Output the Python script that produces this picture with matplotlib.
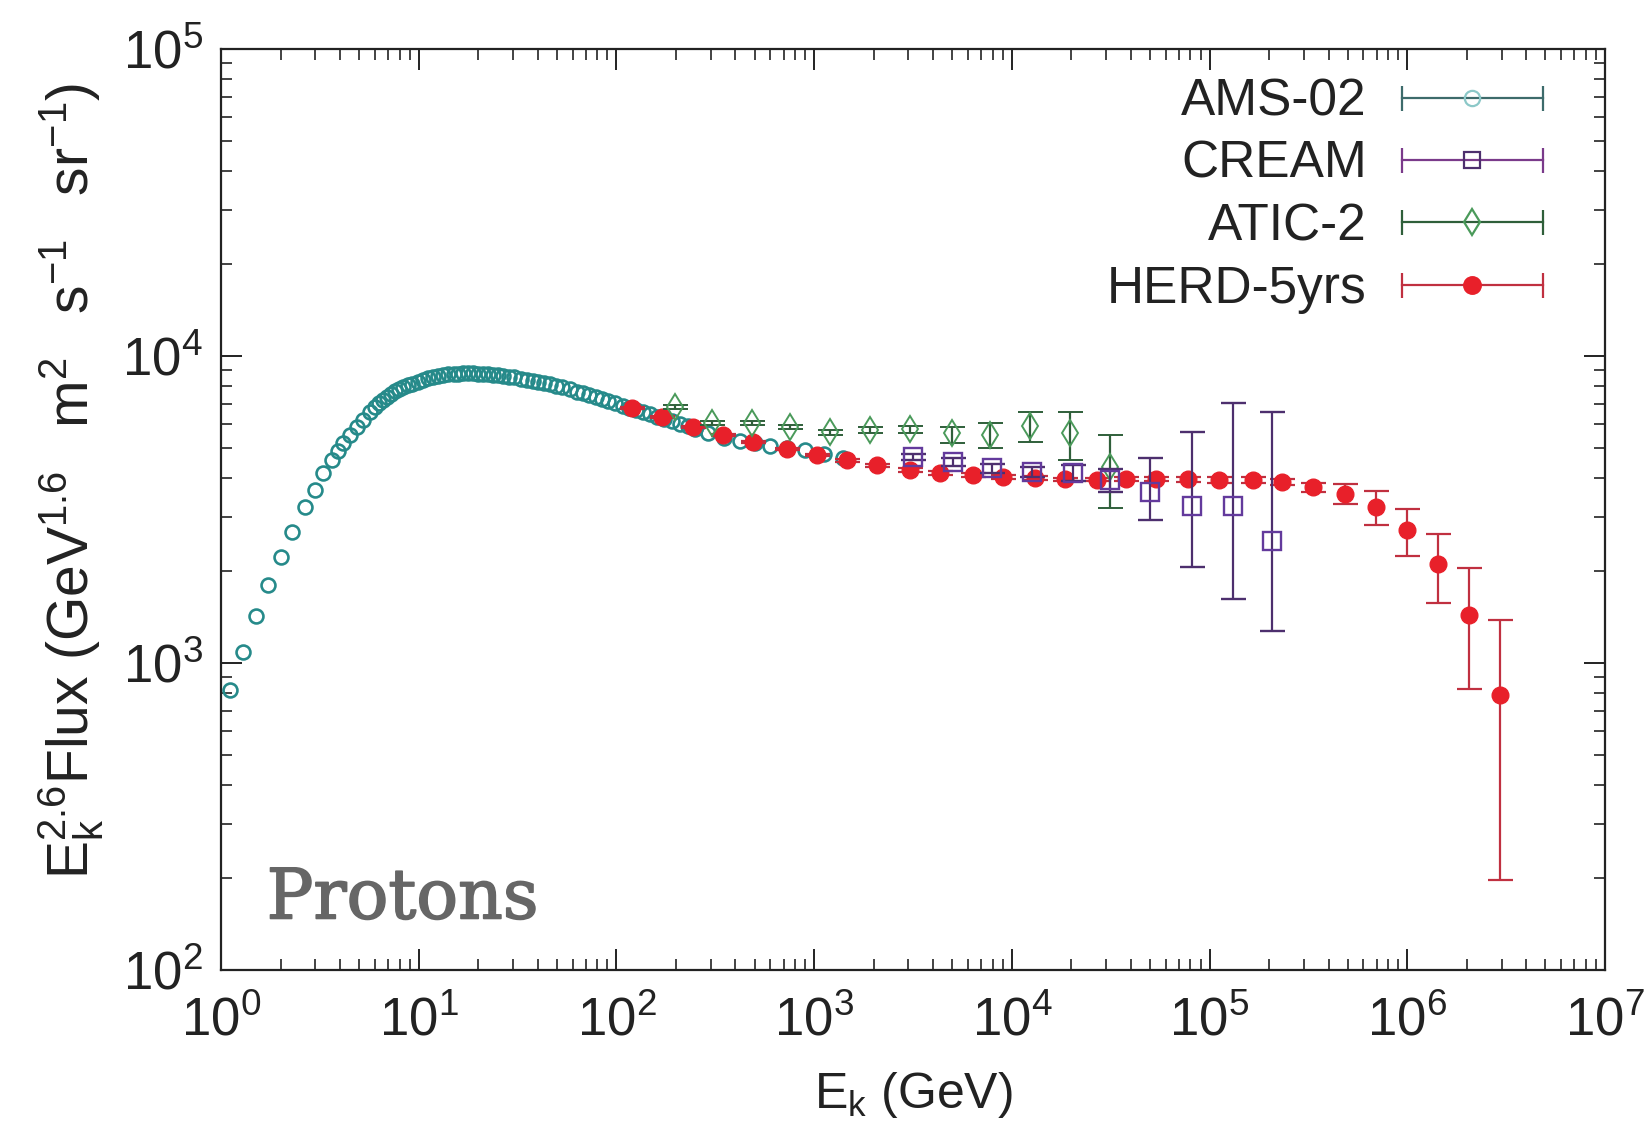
import numpy as np
import matplotlib
matplotlib.use('Agg')
import matplotlib.pyplot as plt
import matplotlib.patheffects as pe
from matplotlib.ticker import LogLocator, NullFormatter
from matplotlib.lines import Line2D
from matplotlib.legend_handler import HandlerLine2D

plt.rcParams['font.family'] = ['Liberation Sans', 'DejaVu Sans']
plt.rcParams['mathtext.fontset'] = 'custom'
plt.rcParams['mathtext.rm'] = 'Liberation Sans'
plt.rcParams['mathtext.it'] = 'Liberation Sans:italic'
plt.rcParams['mathtext.bf'] = 'Liberation Sans:bold'

# AMS-02 (GeV, E^2.6 flux)
ams_e = [1.11, 1.29, 1.50, 1.73, 2.01, 2.29, 2.66, 2.99, 3.28, 3.64,
         3.9, 4.14, 4.5, 4.87, 5.25, 5.67, 6.0, 6.3, 6.6, 6.9,
         7.25, 7.6, 7.95, 8.3, 8.8, 9.3, 9.9, 10.5, 11.1, 11.8,
         12.5, 13.3, 14.1, 15.0, 15.8, 16.7, 17.7, 18.8, 19.9, 21.1,
         22.4, 23.7, 25.1, 26.7, 28.5, 30.5, 32.8, 35.3, 37.7, 40.3,
         43.2, 46.2, 49.5, 53.0, 58.0, 63.0, 68.0, 73.0, 79.0, 85.0,
         91.0, 98.0, 108, 116, 125, 136, 148, 161, 175, 192,
         210, 230, 250, 290, 350, 420, 500, 600, 730, 900,
         1120, 1400]
ams_flux = [817, 1087, 1422, 1795, 2215, 2672, 3222, 3657, 4158, 4580,
            4900, 5210, 5550, 5875, 6200, 6575, 6820, 7050, 7200, 7350,
            7530, 7700, 7820, 7920, 8020, 8100, 8230, 8350, 8460, 8550,
            8620, 8680, 8720, 8750, 8770, 8780, 8785, 8780, 8770, 8750,
            8725, 8700, 8665, 8620, 8575, 8520, 8430, 8330, 8260, 8200,
            8150, 8100, 8000, 7900, 7780, 7650, 7550, 7450, 7350, 7250,
            7150, 7050, 6850, 6750, 6650, 6550, 6450, 6350, 6250, 6120,
            6000, 5900, 5800, 5600, 5420, 5300, 5200, 5100, 5020, 4940,
            4800, 4650]

# CREAM
cream_e = [3165, 5040, 7940, 12650, 20400, 31400, 50000, 81500, 131500, 207000]
cream_flux = [4690, 4520, 4315, 4190, 4160, 3945, 3605, 3245, 3245, 2495]
cream_lo = [120, 150, 150, 160, 250, 350, 685, 1190, 1630, 1225]
cream_hi = [120, 150, 150, 160, 250, 350, 1055, 2405, 3785, 4085]

# ATIC-2
atic_e = [198, 305, 485, 755, 1200, 1920, 3055, 4990, 7760, 12360, 19700, 31400]
atic_flux = [6800, 6050, 6050, 5870, 5650, 5740, 5780, 5610, 5530, 5920, 5620, 4345]
atic_lo = [100, 100, 100, 100, 100, 120, 150, 400, 520, 670, 1040, 1145]
atic_hi = [100, 100, 100, 100, 100, 120, 150, 260, 520, 660, 960, 1185]

# HERD-5yrs
herd_e = [120, 170, 244, 346, 491, 729, 1035, 1466, 2080, 3055, 4335, 6370, 9040, 13100,
          18600, 26900, 38000, 53300, 77800, 111000, 166000, 233000, 334000, 484000,
          695000, 998000, 1430000, 2060000, 2950000]
herd_flux = [6770, 6320, 5870, 5530, 5250, 4975, 4760, 4580, 4415, 4253, 4160, 4095, 4040,
             4010, 3970, 3955, 3970, 3970, 3970, 3945, 3945, 3890, 3740, 3550, 3220, 2710,
             2100, 1430, 787]
herd_err = [60, 60, 60, 55, 55, 50, 50, 50, 50, 50, 50, 50, 50, 50, 50, 50, 55, 60, 70,
            80, 90, 100, 130, 265, 400, 475, 530, 610, 590]

ams_col = '#268a8a'
cream_col = '#633a9c'
cream_ecol = '#4d2f6e'
atic_col = '#4a9a5a'
atic_ecol = '#2f5f3a'
herd_col = '#e8202a'
herd_ecol = '#c03040'

fig = plt.figure(figsize=(16.48, 11.29), dpi=100)
ax = fig.add_axes([0.1341, 0.1408, 0.8398, 0.8158])
ax.set_xscale('log')
ax.set_yscale('log')

ax.errorbar(ams_e, ams_flux, fmt='o', ms=10, mfc='none', mec=ams_col, mew=1.9, zorder=2)
ax.errorbar(herd_e, herd_flux, yerr=herd_err, fmt='o', ms=12, color=herd_col,
            ecolor=herd_ecol, elinewidth=1.6, capsize=9, capthick=1.6, zorder=3)
ax.errorbar(atic_e, atic_flux, yerr=[atic_lo, atic_hi], fmt='d', ms=13, mfc='none',
            mec=atic_col, mew=1.4, ecolor=atic_ecol, elinewidth=1.6, capsize=9,
            capthick=1.6, zorder=4)
ax.errorbar(cream_e, cream_flux, yerr=[cream_lo, cream_hi], fmt='s', ms=13, mfc='none',
            mec=cream_col, mew=1.7, ecolor=cream_ecol, elinewidth=1.6, capsize=9,
            capthick=1.6, zorder=5)

# legend keys drawn like the gnuplot key: a bar with end caps and the marker in the middle
hmap = {}
def key(line_col, marker, ms, mfc, mec):
    bar = Line2D([], [], color=line_col, lw=1.6, marker='|', ms=18, mew=1.6)
    mk = Line2D([], [], ls='none', marker=marker, ms=ms, mfc=mfc, mec=mec, mew=1.6)
    hmap[bar] = HandlerLine2D(numpoints=2, marker_pad=0)
    return (bar, mk)

handles = [key('#3d6b6b', 'o', 11, 'none', '#8cc8c8'),
           key('#7a3a8a', 's', 12, 'none', cream_ecol),
           key(atic_ecol, 'd', 13, 'none', atic_col),
           key(herd_ecol, 'o', 12, herd_col, herd_col)]

ax.legend(handles, ['AMS-02', 'CREAM', 'ATIC-2', 'HERD-5yrs'],
          loc='upper right', bbox_to_anchor=(0.955, 0.969), frameon=False,
          markerfirst=False, numpoints=1, fontsize=37, handlelength=2.74,
          handletextpad=0.68, labelspacing=0.26, borderpad=0, borderaxespad=0,
          handler_map=hmap, labelcolor='#222222')

ax.set_xlim(1, 1e7)
ax.set_ylim(1e2, 1e5)
ax.xaxis.set_major_locator(LogLocator(base=10, numticks=20))
ax.xaxis.set_minor_locator(LogLocator(base=10, subs=np.arange(2, 10), numticks=100))
ax.xaxis.set_minor_formatter(NullFormatter())
ax.yaxis.set_minor_locator(LogLocator(base=10, subs=np.arange(2, 10), numticks=100))
ax.yaxis.set_minor_formatter(NullFormatter())
ax.tick_params(which='both', direction='in', top=True, right=True, colors='#222222')
ax.tick_params(which='major', length=15, width=1.4, labelsize=38)
ax.tick_params(axis='x', which='major', pad=19)
ax.tick_params(axis='y', which='major', pad=13)
ax.tick_params(which='minor', length=8, width=1.2)
for s in ax.spines.values():
    s.set_linewidth(1.6)
    s.set_color('#222222')

ax.text(-0.108, 0.531,
        r'$\mathrm{E_k^{2.6}Flux\ (GeV^{1.6}\ \;\;m^2\ \;\;s^{-1}\ \;\;sr^{-1})}$',
        transform=ax.transAxes, rotation=90, ha='center', va='center',
        fontsize=41, color='#222222')
ax.text(0.5, -0.136, r'$\mathrm{E_k\ (GeV)}$', transform=ax.transAxes,
        ha='center', va='center', fontsize=36, color='#222222')

ax.text(0.033, 0.056, 'Protons', transform=ax.transAxes, fontsize=50,
        family='DejaVu Serif', color='#666666', va='baseline',
        path_effects=[pe.withStroke(linewidth=1.2, foreground='#666666')])

fig.savefig('out.png', dpi=100)
